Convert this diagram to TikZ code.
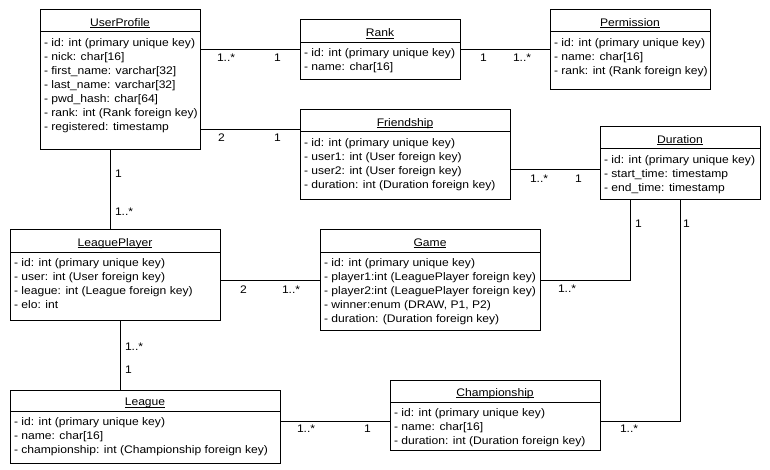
\documentclass[tikz,border=0pt]{standalone}
\usepackage{fontspec}
\setmainfont{Liberation Sans}[FakeStretch=1.1]
\begin{document}
\begin{tikzpicture}[x=1pt,y=-1pt,
  every node/.style={font=\fontsize{11}{13}\selectfont, inner sep=0pt, outer sep=0pt},
  umlbox/.style={draw, line width=1pt, fill=white},
  conn/.style={line width=1pt},
  mult/.style={anchor=base west},
  rowtxt/.style={anchor=base west}]
\useasboundingbox (0,0) rectangle (770,470);
\fill[white] (0,0) rectangle (770,470);
\newcommand\umlclass[8]{%
  \node[umlbox, minimum width={#4-#2}, minimum height={#5-#3}, anchor=north west] (#1) at (#2,#3) {};
  \draw[line width=1pt] (#2,#6) -- (#4,#6);
  \node[anchor=base] (#1-t) at ({(#2+#4)/2},{#6-5.8}) {#7};
  \draw[line width=0.8pt] ([yshift=-1.4pt]#1-t.base west) -- ([yshift=-1.4pt]#1-t.base east);
  \foreach \rowtext [count=\rowidx from 0] in {#8}
    \node[rowtxt] (#1-r\rowidx) at ({#2+4},{#6+14.3+\rowidx*14}) {\rowtext};
}
\umlclass{up}{40}{10}{200}{150}{32}{UserProfile}{- id: int (primary unique key), - nick: char[16], - first\_name: varchar[32], - last\_name: varchar[32], - pwd\_hash: char[64], - rank: int (Rank foreign key), - registered: timestamp}
\umlclass{rank}{300}{20}{460}{80}{42.5}{Rank}{- id: int (primary unique key), - name: char[16]}
\umlclass{perm}{550}{10}{710}{90}{32}{Permission}{- id: int (primary unique key), - name: char[16], - rank: int (Rank foreign key)}
\umlclass{friend}{300}{110}{510}{200}{132}{Friendship}{- id: int (primary unique key), - user1: int (User foreign key), - user2: int (User foreign key), - duration: int (Duration foreign key)}
\umlclass{dur}{600}{127}{760}{200}{149}{Duration}{- id: int (primary unique key), - start\_time: timestamp, - end\_time: timestamp}
\umlclass{lp}{10}{230}{220}{320}{252}{LeaguePlayer}{- id: int (primary unique key), - user: int (User foreign key), - league: int (League foreign key), - elo: int}
\umlclass{game}{320}{230}{540}{330}{252}{Game}{- id: int (primary unique key), - player1:int (LeaguePlayer foreign key), - player2:int (LeaguePlayer foreign key), {- winner:enum (DRAW, P1, P2)}, - duration: (Duration foreign key)}
\umlclass{league}{10}{390}{280}{463}{411.5}{League}{- id: int (primary unique key), - name: char[16], - championship: int (Championship foreign key)}
\umlclass{champ}{390}{380}{600}{450}{402}{Championship}{- id: int (primary unique key), - name: char[16], - duration: int (Duration foreign key)}
% connectors
\draw[conn] (up.east |- 0,50) -- (rank.west |- 0,50);
\draw[conn] (rank.east |- 0,50) -- (perm.west |- 0,50);
\draw[conn] (up.east |- 0,130) -- (friend.west |- 0,130);
\draw[conn] (friend.east |- 0,170) -- (dur.west |- 0,170);
\draw[conn] (up.south -| 110,0) -- (lp.north -| 110,0);
\draw[conn] (lp.east |- 0,280) -- (game.west |- 0,280);
\draw[conn] (game.east |- 0,280) -| (dur.south -| 630.5,0);
\draw[conn] (lp.south -| 120,0) -- (league.north -| 120,0);
\draw[conn] (league.east |- 0,421) -- (champ.west |- 0,421);
\draw[conn] (champ.east |- 0,421) -| (dur.south -| 680,0);
% multiplicities
\node[mult] (m1) at (217,62) {1..*};
\node[mult] (m2) at (274,62) {1};
\node[mult] (m3) at (480,62) {1};
\node[mult] (m4) at (513,62) {1..*};
\node[mult] (m5) at (218,141.5) {2};
\node[mult] (m6) at (274,141.5) {1};
\node[mult] (m7) at (530,182.5) {1..*};
\node[mult] (m8) at (575,182.5) {1};
\node[mult] (m9) at (115,178) {1};
\node[mult] (m10) at (115,215) {1..*};
\node[mult] (m11) at (240,293) {2};
\node[mult] (m12) at (282,293) {1..*};
\node[mult] (m13) at (558,292) {1..*};
\node[mult] (m14) at (635,228) {1};
\node[mult] (m15) at (683,228) {1};
\node[mult] (m16) at (620,432) {1..*};
\node[mult] (m17) at (125,350) {1..*};
\node[mult] (m18) at (125,373) {1};
\node[mult] (m19) at (297,432) {1..*};
\node[mult] (m20) at (364,432) {1};
\end{tikzpicture}
\end{document}
